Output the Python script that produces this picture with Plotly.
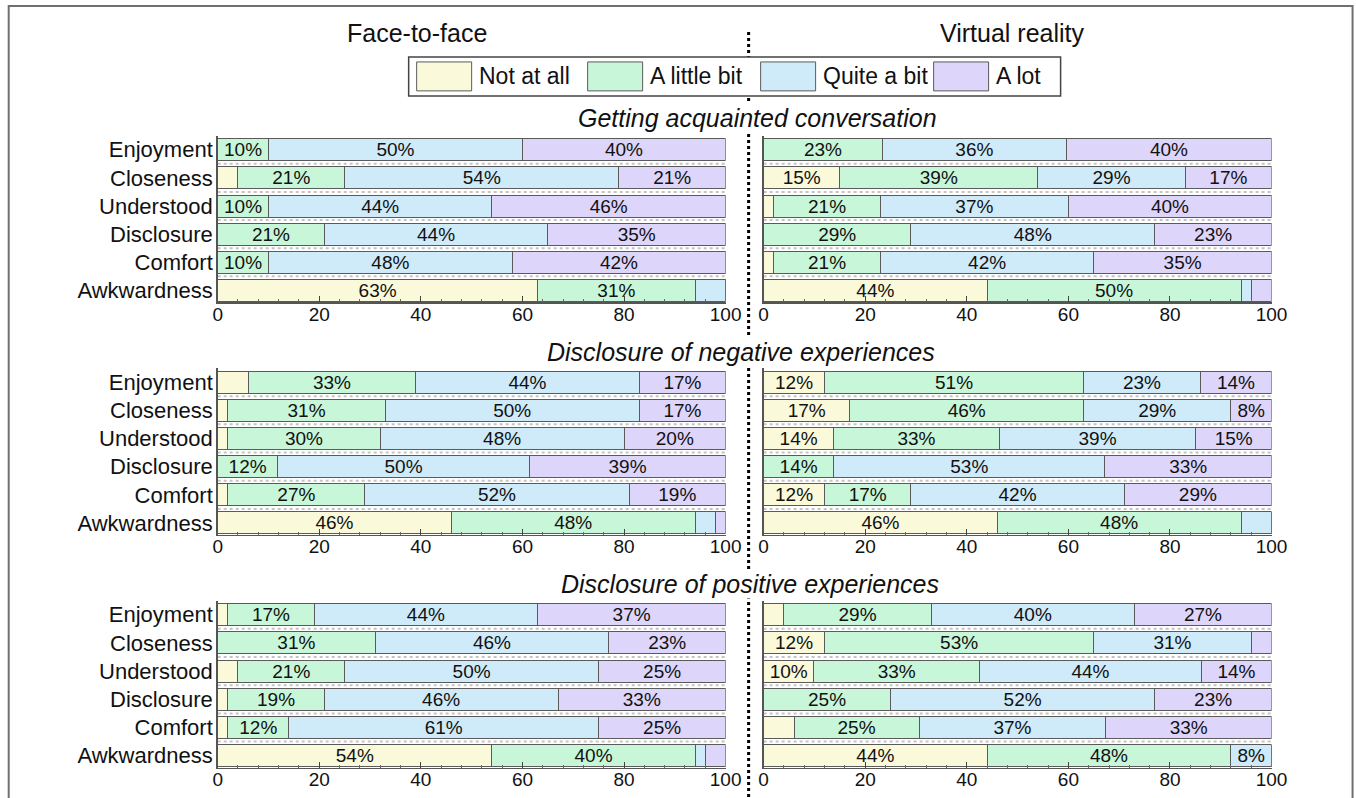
import plotly.graph_objects as go
from plotly.subplots import make_subplots

# Horizontal calibration of the page -> picture mapping observed in earlier runs.
X_OFF, X_SCALE = 4.3, 0.9848
W = 1373
H = 798
FONT = "Liberation Sans, Arial, sans-serif"

categories = ["Enjoyment", "Closeness", "Understood", "Disclosure", "Comfort", "Awkwardness"]
levels = ["Not at all", "A little bit", "Quite a bit", "A lot"]
level_colors = ["#FAF9DA", "#C8F6D8", "#CFEAF8", "#DED5FA"]

conditions = ["Face-to-face", "Virtual reality"]
scenarios = ["Getting acquainted conversation",
             "Disclosure of negative experiences",
             "Disclosure of positive experiences"]

# Getting acquainted conversation
ga_f2f_not = [0, 4, 0, 0, 0, 63]
ga_f2f_little = [10, 21, 10, 21, 10, 31]
ga_f2f_quite = [50, 54, 44, 44, 48, 6]
ga_f2f_lot = [40, 21, 46, 35, 42, 0]

ga_vr_not = [0, 15, 2, 0, 2, 44]
ga_vr_little = [23.4, 39, 21, 29, 21, 50]
ga_vr_quite = [36.2, 29, 37, 48, 42, 2]
ga_vr_lot = [40.4, 17, 40, 23, 35, 4]

# Disclosure of negative experiences
neg_f2f_not = [6, 2, 2, 0, 2, 46]
neg_f2f_little = [33, 31, 30, 11.8, 27, 48]
neg_f2f_quite = [44, 50, 48, 49.6, 52, 4]
neg_f2f_lot = [17, 17, 20, 38.6, 19, 2]

neg_vr_not = [12, 17, 13.8, 0, 12, 46]
neg_vr_little = [51, 46, 32.6, 13.8, 17, 48]
neg_vr_quite = [23, 29, 38.7, 53.4, 42, 6]
neg_vr_lot = [14, 8, 14.9, 32.8, 29, 0]

# Disclosure of positive experiences
pos_f2f_not = [2, 0, 4, 2, 2, 54]
pos_f2f_little = [17, 31, 21, 19, 12, 40]
pos_f2f_quite = [44, 46, 50, 46, 61, 2]
pos_f2f_lot = [37, 23, 25, 33, 25, 4]

pos_vr_not = [4, 12, 9.9, 0, 6, 44]
pos_vr_little = [29, 53, 32.6, 25, 24.6, 48]
pos_vr_quite = [40, 31, 43.7, 52, 36.8, 8]
pos_vr_lot = [27, 4, 13.8, 23, 32.6, 0]

x_ticks = [0, 20, 40, 60, 80, 100]

panels = [
    [[ga_f2f_not, ga_f2f_little, ga_f2f_quite, ga_f2f_lot],
     [ga_vr_not, ga_vr_little, ga_vr_quite, ga_vr_lot]],
    [[neg_f2f_not, neg_f2f_little, neg_f2f_quite, neg_f2f_lot],
     [neg_vr_not, neg_vr_little, neg_vr_quite, neg_vr_lot]],
    [[pos_f2f_not, pos_f2f_little, pos_f2f_quite, pos_f2f_lot],
     [pos_vr_not, pos_vr_little, pos_vr_quite, pos_vr_lot]],
]

fig = make_subplots(rows=3, cols=2)


def px_x(p):
    # target picture x -> paper fraction
    return ((p - X_OFF) / X_SCALE) / W


def px_y(p):
    return 1 - p / H


x_domains = [[px_x(217), px_x(725)], [px_x(763), px_x(1271)]]
row_px = [(135.9, 302.6), (368.4, 535.5), (601.4, 768.5)]

for r in range(3):
    for c in range(2):
        series = panels[r][c]
        for li, vals in enumerate(series):
            fig.add_trace(go.Bar(
                y=categories, x=vals, orientation="h",
                name=levels[li], showlegend=False,
                marker=dict(color=level_colors[li], line=dict(color="#5a5a5a", width=1)),
                width=0.78,
                text=[f"{round(v)}%" if v >= 7.5 else "" for v in vals],
                textposition="inside", insidetextanchor="middle", textangle=0,
                constraintext="none",
                textfont=dict(size=19, color="#111111", family=FONT),
                hoverinfo="skip",
            ), row=r + 1, col=c + 1)
        n = r * 2 + c + 1
        sfx = "" if n == 1 else str(n)
        top, bot = row_px[r]
        fig.layout["xaxis" + sfx].update(
            domain=x_domains[c], range=[0, 100], tickvals=x_ticks,
            ticks="inside", ticklen=6, tickcolor="#444444", tickwidth=1,
            minor=dict(dtick=4, tick0=0, ticks="inside", ticklen=3, tickcolor="#666666"),
            showline=True, linecolor="#555555", linewidth=1.5,
            showgrid=False, zeroline=False, fixedrange=True,
            ticklabelstandoff=-6,
            tickfont=dict(size=19, color="#111111", family=FONT),
        )
        fig.layout["yaxis" + sfx].update(
            domain=[px_y(bot), px_y(top)], type="category",
            categoryorder="array", categoryarray=categories,
            range=[5.42, -0.5], showline=True, linecolor="#555555", linewidth=1.5,
            ticks="", showgrid=False, zeroline=False, fixedrange=True,
            showticklabels=(c == 0), ticklabelstandoff=-1,
            tickfont=dict(size=22, color="#111111", family=FONT),
        )
        xr = "x" + sfx
        yr = "y" + sfx
        for k in range(5):
            fig.add_shape(type="line", xref=xr, yref=yr, x0=0, x1=100,
                          y0=k + 0.5, y1=k + 0.5, layer="below",
                          line=dict(color="#c4c4c4", width=2, dash="dot"))

# figure frame
fig.add_shape(type="rect", xref="paper", yref="paper",
              x0=px_x(8), x1=px_x(1352), y0=-0.05, y1=px_y(6),
              line=dict(color="#707070", width=2), fillcolor="rgba(0,0,0,0)")
# central dotted divider
fig.add_shape(type="line", xref="paper", yref="paper",
              x0=px_x(748), x1=px_x(748), y0=-0.03, y1=px_y(30),
              line=dict(color="#000000", width=3, dash="dot"))

# legend box (drawn manually to match the large swatches)
fig.add_shape(type="rect", xref="paper", yref="paper",
              x0=px_x(408), x1=px_x(1060), y0=px_y(96), y1=px_y(57),
              line=dict(color="#444444", width=1.5), fillcolor="white")
legend_swatch_x = [416, 587, 760, 933]
for li in range(4):
    sx = legend_swatch_x[li]
    fig.add_shape(type="rect", xref="paper", yref="paper",
                  x0=px_x(sx), x1=px_x(sx + 55), y0=px_y(91), y1=px_y(62),
                  line=dict(color="#5a5a5a", width=1), fillcolor=level_colors[li])
    fig.add_annotation(x=px_x(sx + 60), y=px_y(76.5), xref="paper", yref="paper",
                       text=levels[li], showarrow=False, xanchor="left", yanchor="middle",
                       font=dict(size=23, color="#111111", family=FONT))

# condition titles
cond_x = [416, 1012]
for ci, t in enumerate(conditions):
    fig.add_annotation(x=px_x(cond_x[ci]), y=px_y(33), xref="paper", yref="paper",
                       text=t, showarrow=False, xanchor="center", yanchor="middle",
                       font=dict(size=25, color="#111111", family=FONT))

# scenario titles (white background hides the divider behind the text)
scen_x = [757, 740, 749]
scen_y = [118, 352, 585]
for si, t in enumerate(scenarios):
    fig.add_annotation(x=px_x(scen_x[si]), y=px_y(scen_y[si]), xref="paper", yref="paper",
                       text=f"<i>{t}</i>", showarrow=False, xanchor="center", yanchor="middle",
                       bgcolor="white", borderpad=0,
                       font=dict(size=25, color="#111111", family=FONT))

fig.update_layout(
    width=W, height=H, autosize=False,
    margin=dict(l=0, r=0, t=0, b=0),
    barmode="stack", bargap=0.22,
    paper_bgcolor="white", plot_bgcolor="white",
    showlegend=False,
    font=dict(family=FONT, color="#111111"),
)

# place the figure flush with the window (no page margin / scrollbars)
page_fix = ("document.documentElement.style.margin='0';"
            "document.body.style.margin='0';"
            "document.documentElement.style.overflow='hidden';"
            "document.body.style.overflow='hidden';")

fig.write_html("out.html", post_script=page_fix,
               config={"displayModeBar": False, "staticPlot": True})
